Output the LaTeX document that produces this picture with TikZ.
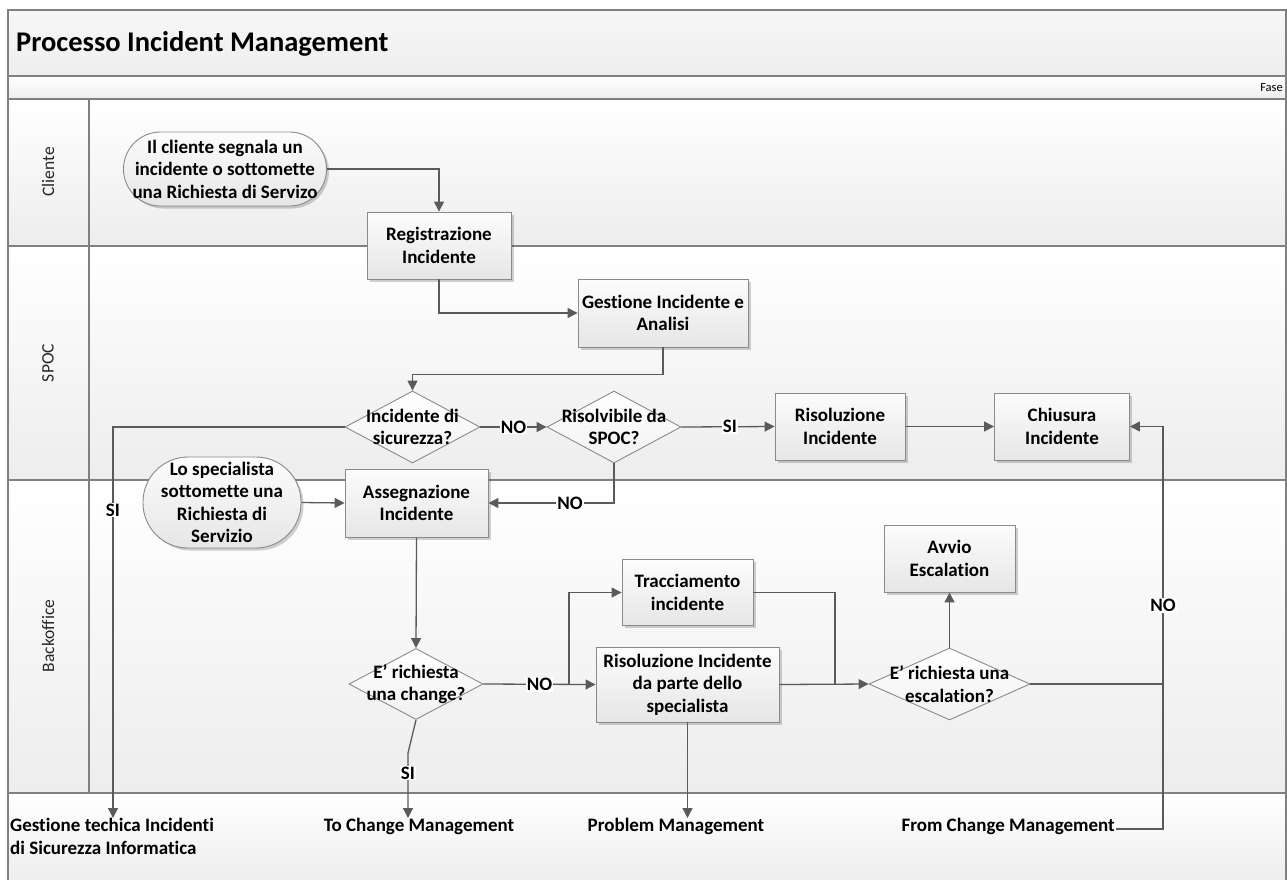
\documentclass[tikz,border=0pt]{standalone}
\usepackage{fontspec}
\setmainfont{Carlito}[Ligatures=NoCommon]
\usetikzlibrary{arrows.meta,shapes.geometric,shadows}

\definecolor{linec}{HTML}{5A5A5A}
\definecolor{boxline}{HTML}{8A8A8A}
\definecolor{boxtop}{HTML}{FCFCFC}
\definecolor{boxbot}{HTML}{E6E6E6}
\definecolor{lanebot}{HTML}{EDEDED}
\definecolor{titletop}{HTML}{F7F7F7}
\definecolor{titlebot}{HTML}{EEEEEE}
\definecolor{sepc}{HTML}{808080}

\begin{document}
\begin{tikzpicture}[x=1pt,y=-1pt,
  txt/.style={font=\fontsize{19}{22.5}\selectfont\bfseries},
  proc/.style={txt, draw=boxline, line width=0.9pt, top color=boxtop, bottom color=boxbot,
    align=center, inner sep=0pt,
    drop shadow={shadow xshift=2.5pt, shadow yshift=-2.5pt, opacity=0.18, fill=black}},
  term/.style={proc, rounded corners=#1},
  dec/.style={diamond, draw=boxline, line width=0.9pt, top color=white, bottom color=boxtop!50!boxbot,
    inner sep=0pt, aspect=1},
  dtext/.style={txt, align=center, inner sep=0pt},
  conn/.style={draw=linec, line width=1.3pt, -{Triangle[length=10pt,width=10pt]}},
  plain/.style={draw=linec, line width=1.3pt},
  cond/.style={txt, fill=white, inner sep=1pt},
  ext/.style={txt, inner sep=1pt},
  lanelbl/.style={font=\fontsize{17.5}{20}\selectfont, text=black!85, rotate=90},
  sep/.style={draw=sepc, line width=1.6pt}
]
% page area
\useasboundingbox (0,0) rectangle (1287,879);

% bands and lanes
\path[top color=titletop, bottom color=titlebot] (8,10) rectangle (1286,76);
\path[top color=white, bottom color=lanebot] (8,76) rectangle (1286,99);
\path[top color=white, bottom color=lanebot] (8,99) rectangle (1286,246);
\path[top color=white, bottom color=lanebot] (8,246) rectangle (1286,480);
\path[top color=white, bottom color=lanebot] (8,480) rectangle (1286,793);
\path[top color=white, bottom color=lanebot] (8,793) rectangle (1286,885);

\draw[sep] (8,76) -- (1286,76);
\draw[sep] (8,99) -- (1286,99);
\draw[sep] (8,246) -- (1286,246);
\draw[sep] (8,480) -- (1286,480);
\draw[sep] (8,793) -- (1286,793);
\draw[sep] (89,99) -- (89,793);
\draw[sep] (8,885) -- (8,10) -- (1286,10) -- (1286,885);

% headings
\node[anchor=west, font=\fontsize{28.5}{33}\selectfont\bfseries, inner sep=0pt] (title) at (16,44) {Processo Incident Management};
\node[anchor=east, font=\fontsize{12.5}{14}\selectfont, inner sep=0pt] (phase) at (1283,88) {Fase};
\node[lanelbl] (lcli) at (48,172) {Cliente};
\node[lanelbl] (lspoc) at (48,363) {SPOC};
\node[lanelbl] (lback) at (48,636) {Backoffice};

% process steps
\node[term=37pt, minimum width=203pt, minimum height=74pt] (start1) at (225,169)
  {Il cliente segnala un\\incidente o sottomette\\una Richiesta di Servizo};
\node[proc, minimum width=144pt, minimum height=67pt] (reg) at (439,245.5) {Registrazione\\Incidente};
\node[proc, minimum width=170pt, minimum height=68pt] (gest) at (663,313) {Gestione Incidente e\\Analisi};
\node[dec, minimum width=135pt, minimum height=72pt,
  label={[dtext]center:{Incidente di\\sicurezza?}}] (d1) at (412.5,427) {};
\node[dec, minimum width=134pt, minimum height=72pt,
  label={[dtext]center:{Risolvibile da\\SPOC?}}] (d2) at (614,427) {};
\node[proc, minimum width=130pt, minimum height=67pt] (ris) at (840,426.5) {Risoluzione\\Incidente};
\node[proc, minimum width=135pt, minimum height=67pt] (chi) at (1062,426.5) {Chiusura\\Incidente};

\node[term=45pt, minimum width=158pt, minimum height=91pt] (start2) at (222,502.5)
  {Lo specialista\\sottomette una\\Richiesta di\\Servizio};
\node[proc, minimum width=143pt, minimum height=68pt] (ass) at (416.5,503) {Assegnazione\\Incidente};
\node[dec, minimum width=134pt, minimum height=71pt,
  label={[dtext]center:{E’ richiesta\\una change?}}] (d3) at (416,684) {};
\node[proc, minimum width=131pt, minimum height=66pt] (trac) at (687.5,592.5) {Tracciamento\\incidente};
\node[proc, minimum width=183pt, minimum height=75pt] (ris2) at (687.5,684.5)
  {Risoluzione Incidente\\da parte dello\\specialista};
\node[dec, minimum width=161pt, minimum height=72pt,
  label={[dtext]center:{E’ richiesta una\\escalation?}}] (d4) at (949.5,684) {};
\node[proc, minimum width=131pt, minimum height=67pt] (avv) at (949.5,558.5) {Avvio\\Escalation};

% external processes
\node[ext, anchor=north west, align=left] (gt) at (9,817) {Gestione techica Incidenti\\di Sicurezza Informatica};
\node[ext, anchor=north] (tcm) at (419,817) {To Change Management};
\node[ext, anchor=north] (pm) at (676,817) {Problem Management};
\node[ext, anchor=north east] (fcm) at (1116,817) {From Change Management};

\coordinate (gtin) at (113,818);
\coordinate (tcmin) at (408,818);
\coordinate (bend) at (408,753);
\coordinate (br) at (569,684.5);
\coordinate (mrg) at (835,684);
\coordinate (jr) at (1163,684);

% connectors
\draw[conn] (start1.east) -| (reg.north);
\draw[conn] (reg.south) |- (gest.west);
\draw[conn] (gest.south) -- ++(0,27) -| (d1.north);
\draw[conn] (d1.east) -- node[cond] {NO} (d2.west);
\draw[conn] (d2.east) -- node[cond, pos=0.52] {SI} (ris.west);
\draw[conn] (ris.east) -- (chi.west);
\draw[conn] (d1.west) -| node[cond, pos=0.606] {SI} (gtin);
\draw[conn] (d2.south) |- node[cond, pos=0.675] {NO} (ass.east);
\draw[conn] (start2.east) -- (ass.west);
\draw[conn] (ass.south) -- (d3.north);
\draw[conn] (d3.east) -- node[cond] {NO} (ris2.west);
\draw[conn] (br) |- (trac.west);
\draw[conn] (d3.south) -- (bend) -- node[cond, pos=0.31] {SI} (tcmin);
\draw[conn] (ris2.south) -- (ris2.south |- gtin);
\draw[plain] (trac.east) -| (mrg);
\draw[conn] (ris2.east) -- (d4.west);
\draw[conn] (d4.north) -- (avv.south);
\draw[plain] (d4.east) -- (jr);
\draw[conn] (fcm.east |- 0,829) -| (jr) |- node[cond, pos=0.153] {NO} (chi.east);
\end{tikzpicture}
\end{document}
